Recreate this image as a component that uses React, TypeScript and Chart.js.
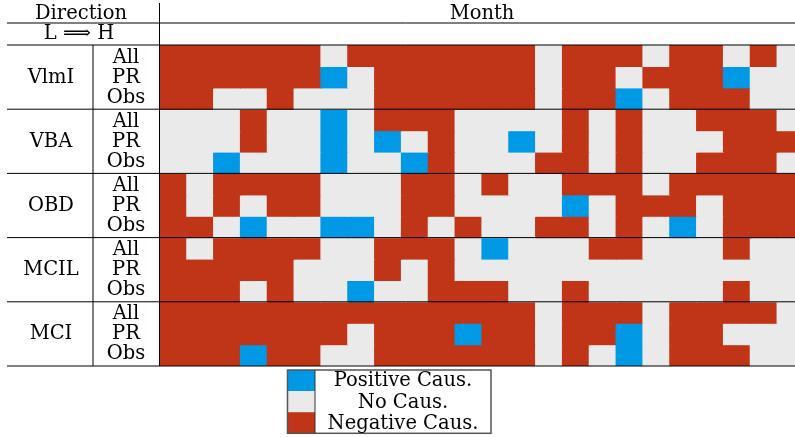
import React, { useEffect, useRef } from "react";
import { Chart, registerables } from "chart.js";

Chart.register(...registerables);

// States: N = negative causality, Z = no causality, P = positive causality
const N = -1;
const Z = 0;
const P = 1;

const months = [
  "Jan", "Feb", "Mar", "Apr", "May", "Jun", "Jul", "Aug", "Sep", "Oct", "Nov", "Dec",
  "Jan", "Feb", "Mar", "Apr", "May", "Jun", "Jul", "Aug", "Sep", "Oct", "Nov", "Dec",
];
const groups = ["VlmI", "VBA", "OBD", "MCIL", "MCI"];
const subRows = ["All", "PR", "Obs"];
const legendStates = [P, Z, N];
const legendLabels = ["Positive Caus.", "No Caus.", "Negative Caus."];

const vlmiAll = [N, N, N, N, N, N, Z, N, N, N, N, N, N, N, Z, N, N, N, Z, N, N, Z, N, Z];
const vlmiPR = [N, N, N, N, N, N, P, Z, N, N, N, N, N, N, Z, N, N, Z, N, N, N, P, Z, Z];
const vlmiObs = [N, N, Z, Z, N, Z, Z, Z, N, N, N, N, N, N, Z, N, N, P, Z, N, N, N, Z, Z];

const vbaAll = [Z, Z, Z, N, Z, Z, P, Z, N, N, N, Z, Z, Z, Z, N, Z, N, Z, Z, N, N, N, Z];
const vbaPR = [Z, Z, Z, N, Z, Z, P, Z, P, Z, N, Z, Z, P, Z, N, Z, N, Z, Z, Z, N, N, N];
const vbaObs = [Z, Z, P, Z, Z, Z, P, Z, Z, P, N, Z, Z, Z, N, N, Z, N, Z, Z, N, N, N, Z];

const obdAll = [N, Z, N, N, N, N, Z, Z, Z, N, N, Z, N, Z, Z, N, N, N, Z, N, N, N, N, N];
const obdPR = [N, Z, N, Z, N, N, Z, Z, Z, N, N, Z, Z, Z, Z, P, Z, N, N, N, Z, N, N, N];
const obdObs = [N, N, Z, P, Z, Z, P, P, Z, N, Z, N, Z, Z, N, N, Z, N, Z, P, Z, N, N, N];

const mcilAll = [N, Z, N, N, N, N, Z, Z, N, N, N, Z, P, Z, Z, Z, N, N, Z, Z, Z, N, Z, Z];
const mcilPR = [N, N, N, N, N, Z, Z, Z, N, Z, N, Z, Z, Z, Z, Z, Z, Z, Z, Z, Z, Z, Z, Z];
const mcilObs = [N, N, N, Z, N, Z, Z, P, Z, Z, N, N, N, Z, Z, N, Z, Z, Z, Z, Z, N, Z, Z];

const mciAll = [N, N, N, N, N, N, N, N, N, N, N, N, N, N, Z, N, N, N, Z, N, N, N, N, Z];
const mciPR = [N, N, N, N, N, N, N, Z, N, N, N, P, N, N, Z, N, N, P, Z, N, N, Z, Z, Z];
const mciObs = [N, N, N, P, N, N, Z, Z, N, N, N, N, N, N, Z, N, Z, P, Z, N, N, N, Z, Z];

const rows = [
  vlmiAll, vlmiPR, vlmiObs,
  vbaAll, vbaPR, vbaObs,
  obdAll, obdPR, obdObs,
  mcilAll, mcilPR, mcilObs,
  mciAll, mciPR, mciObs,
];

const COLORS: Record<number, string> = {
  [P]: "#0099E6",
  [Z]: "#EAEAEA",
  [N]: "#C03518",
};

const FONT = "19.5px 'DejaVu Serif'";

const tablePlugin = {
  id: "tableDecor",
  afterDraw(chart: any) {
    const { ctx, chartArea, scales } = chart;
    const ys = scales.y;
    const W = chart.width;
    const left = 7;
    ctx.save();

    const hline = (y: number, x0: number, x1: number) => {
      ctx.beginPath();
      ctx.moveTo(x0, y);
      ctx.lineTo(x1, y);
      ctx.stroke();
    };
    const vline = (x: number, y0: number, y1: number) => {
      ctx.beginPath();
      ctx.moveTo(x, y0);
      ctx.lineTo(x, y1);
      ctx.stroke();
    };

    ctx.strokeStyle = "#000";
    ctx.lineWidth = 1;
    hline(23, left, W);
    hline(chartArea.top, left, W);
    for (let g = 1; g <= groups.length; g++) {
      hline(ys.getPixelForValue(g * 3), left, W);
    }
    vline(chartArea.left - 0.5, 3, chartArea.bottom);
    vline(93, chartArea.top, chartArea.bottom);

    ctx.fillStyle = "#000";
    ctx.font = FONT;
    ctx.textAlign = "center";
    ctx.textBaseline = "alphabetic";
    ctx.fillText("Direction", 81, 19);
    ctx.fillText("L \u27F9 H", 79, 39);
    ctx.fillText("Month", (chartArea.left + chartArea.right) / 2, 18.5);

    groups.forEach((g, gi) => {
      const y0 = ys.getPixelForValue(gi * 3);
      const y1 = ys.getPixelForValue(gi * 3 + 3);
      const gc = (y0 + y1) / 2;
      ctx.fillText(g, 51, gc + 5.5);
      subRows.forEach((s, si) => {
        ctx.fillText(s, 126, gc + (si - 1) * 20 + 5.5);
      });
    });

    // legend
    const lx0 = 287.5;
    const lx1 = 491;
    const sw = 315;
    const ly0 = 370;
    const rh = 21.1;
    legendStates.forEach((st, i) => {
      ctx.fillStyle = COLORS[st];
      ctx.fillRect(lx0, ly0 + i * rh, sw - lx0, rh);
    });
    ctx.strokeStyle = "#555";
    ctx.lineWidth = 1.5;
    ctx.strokeRect(lx0, ly0, lx1 - lx0, 3 * rh);
    ctx.strokeStyle = "#333";
    ctx.lineWidth = 1;
    vline(sw, ly0, ly0 + 3 * rh);
    ctx.fillStyle = "#000";
    const baselines = [386, 407.5, 428.5];
    legendLabels.forEach((t, i) => {
      ctx.fillText(t, (sw + lx1) / 2, baselines[i]);
    });

    ctx.restore();
  },
};

export default function App() {
  const canvasRef = useRef<HTMLCanvasElement | null>(null);

  useEffect(() => {
    if (!canvasRef.current) return;
    const datasets = rows.map((row, ri) => ({
      label: `${groups[Math.floor(ri / 3)]} ${subRows[ri % 3]}`,
      data: row.map(() => 1),
      backgroundColor: row.map((s) => COLORS[s]),
      borderWidth: 0,
      inflateAmount: 0.6,
      barPercentage: 1,
      categoryPercentage: 1,
    }));
    const chart = new Chart(canvasRef.current, {
      type: "bar",
      data: { labels: months, datasets },
      options: {
        responsive: false,
        animation: false,
        devicePixelRatio: 1,
        layout: { padding: { left: 160, right: 0, top: 45, bottom: 71 } },
        plugins: {
          legend: { display: false },
          tooltip: { enabled: false },
          title: { display: false },
        },
        scales: {
          x: { type: "category", stacked: true, display: false, offset: true },
          y: { type: "linear", stacked: true, display: false, min: 0, max: 15, reverse: true },
        },
      },
      plugins: [tablePlugin],
    } as any);
    return () => chart.destroy();
  }, []);

  return (
    <div
      style={{
        position: "absolute",
        left: 0,
        top: 0,
        width: 795,
        height: 437,
        overflow: "hidden",
        background: "#fff",
      }}
    >
      <canvas ref={canvasRef} width={804} height={437} style={{ display: "block" }} />
    </div>
  );
}
